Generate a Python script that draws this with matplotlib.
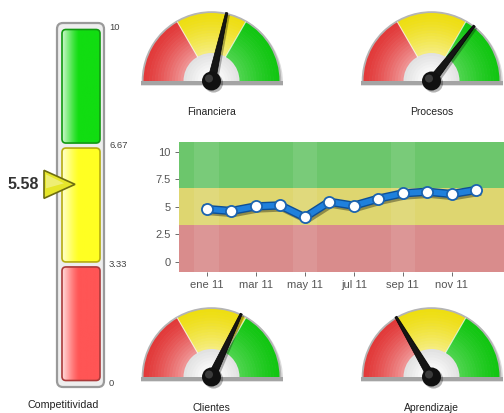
import numpy as np
import matplotlib
matplotlib.use('Agg')
import matplotlib.pyplot as plt
from matplotlib.patches import Wedge, Circle, Rectangle, FancyBboxPatch, Polygon
from matplotlib.colors import to_rgb
import matplotlib.patheffects as pe

plt.rcParams['font.family'] = ['Liberation Sans', 'DejaVu Sans']

# bullet (vertical thermometer)
bullet_title = 'Competitividad'
bullet_value = 5.58
limits = [0, 3.33, 6.67, 10]
limit_labels = ['0', '3.33', '6.67', '10']

# gauges
gauge_names = ['Financiera', 'Procesos', 'Clientes', 'Aprendizaje']
gauge_values = [5.7, 7.1, 6.4, 3.3]

# monthly trend
months = ['ene 11', 'feb 11', 'mar 11', 'abr 11', 'may 11', 'jun 11',
          'jul 11', 'ago 11', 'sep 11', 'oct 11', 'nov 11', 'dic 11']
trend = [4.79, 4.61, 5.03, 5.12, 4.03, 5.45, 5.09, 5.73, 6.21, 6.36, 6.15, 6.52]

zone_colors = ['#e23a3a', '#eede12', '#12c612']
zone_light = [0.45, 0.45, 0.25]


def mix(c, w, amt):
    c, w = np.array(to_rgb(c)), np.array(to_rgb(w))
    return tuple(c + (w - c) * amt)


fig = plt.figure(figsize=(5.04, 4.13), dpi=100)
ax = fig.add_axes([0, 0, 1, 1])
ax.set_xlim(0, 504)
ax.set_ylim(0, 413)
ax.axis('off')

# ---------------- bullet ----------------
def by(v):
    return 30 + v * 35.6

bullet_colors = ['#ff5555', '#ffff22', '#11dd11']
bullet_edges = ['#aa3a3a', '#b5ad10', '#119911']
ax.add_patch(FancyBboxPatch((57, by(0) - 4), 47, by(10) - by(0) + 8,
                            boxstyle='round,pad=0,rounding_size=6',
                            fc='#eeeeee', ec='#9a9a9a', lw=1.6))
for i in range(3):
    y0, y1 = by(limits[i]) + 2.5, by(limits[i + 1]) - 2.5
    seg = FancyBboxPatch((62, y0), 38, y1 - y0,
                         boxstyle='round,pad=0,rounding_size=4',
                         fc='none', ec=bullet_edges[i], lw=1.2, zorder=3)
    ax.add_patch(seg)
    t = np.linspace(0, 1, 60)
    amt = np.clip(1 - t / 0.45, 0, 1) ** 1.3 * 0.8
    grad = np.array([mix(bullet_colors[i], 'white', a) for a in amt])[None, :, :]
    im = ax.imshow(grad, extent=(62, 100, y0, y1), aspect='auto', zorder=2)
    im.set_clip_path(seg)
    ax.text(109, by(limits[i]), limit_labels[i], fontsize=6.8, color='#444',
            va='center', ha='left')
ax.text(109, by(limits[3]), limit_labels[3], fontsize=6.8, color='#444',
        va='center', ha='left')

yv = by(bullet_value)
ax.add_patch(Polygon([(44, yv + 14), (44, yv - 14), (75, yv)], closed=True,
                     fc='#e6e62a', ec='#6d6d10', lw=1.2, zorder=5))
ax.add_patch(Polygon([(46, yv + 10), (46, yv - 4), (64, yv + 1)], closed=True,
                     fc='white', alpha=0.35, ec='none', zorder=6))
ax.text(39, yv, f'{bullet_value:.2f}', fontsize=11.5, fontweight='bold',
        color='#333', ha='right', va='center')
ax.text(63, 8, bullet_title, fontsize=7.7, color='#222', ha='center', va='center')


# ---------------- gauges ----------------
def draw_gauge(cx, cy, value, name):
    R, r_in = 68, 28
    ax.add_patch(Wedge((cx + 1, cy - 2), R + 2.5, 0, 180, fc='#dddddd', ec='none'))
    ax.add_patch(Wedge((cx, cy), R + 1.8, 0, 180, fc='#b4b4b4', ec='none'))
    ax.add_patch(Rectangle((cx - R - 3, cy - 5), 2 * R + 6, 2, fc='#e2e2e2', ec='none'))
    ax.add_patch(Rectangle((cx - R - 3, cy - 3.5), 2 * R + 6, 3.5, fc='#a4a4a4', ec='none'))
    n = 14
    dr = (R - r_in) / n
    for i in range(3):
        th2 = 180 - limits[i] * 18
        th1 = 180 - limits[i + 1] * 18
        for k in range(n):
            t = k / (n - 1)
            amt = zone_light[i] * t ** 1.3
            ax.add_patch(Wedge((cx, cy), R - k * dr, th1, th2, width=dr + 0.6,
                               fc=mix(zone_colors[i], 'white', amt), ec='none'))
    for lim in limits[1:3]:
        a = np.radians(180 - lim * 18)
        ax.plot([cx + r_in * np.cos(a), cx + R * np.cos(a)],
                [cy + r_in * np.sin(a), cy + R * np.sin(a)],
                color='white', lw=0.8, alpha=0.7)
    m = 10
    for k in range(m):
        rr = r_in - k * r_in / m
        ax.add_patch(Wedge((cx, cy), rr, 0, 180,
                           fc=mix('#e2e2e2', '#fcfcfc', min(1, k / (m - 3))), ec='none'))
    a = np.radians(180 - value * 18)
    L = 70
    ux, uy = np.cos(a), np.sin(a)
    px, py = -uy, ux
    needle = [(cx + px * 4.0, cy + py * 4.0),
              (cx + ux * L + px * 1.1, cy + uy * L + py * 1.1),
              (cx + ux * L - px * 1.1, cy + uy * L - py * 1.1),
              (cx - px * 4.0, cy - py * 4.0)]
    ax.add_patch(Polygon(needle, closed=True, fc='#151515', ec='#000', lw=0.5,
                         zorder=4,
                         path_effects=[pe.withSimplePatchShadow(offset=(1.5, -1.5),
                                                                alpha=0.3)]))
    ax.add_patch(Circle((cx, cy), 9.5, fc='#111', ec='none', zorder=5,
                        path_effects=[pe.withSimplePatchShadow(offset=(1.5, -1.5),
                                                               alpha=0.3)]))
    ax.add_patch(Circle((cx - 2.5, cy + 2.5), 4, fc='#666', ec='none', alpha=0.5,
                        zorder=6))
    ax.text(cx, cy - 31, name, fontsize=7.5, color='#222', ha='center', va='center')


gauge_pos = [(211.5, 332), (431.5, 332), (211.5, 36), (431.5, 36)]
for (gx, gy), val, nm in zip(gauge_pos, gauge_values, gauge_names):
    draw_gauge(gx, gy, val, nm)

# ---------------- trend chart ----------------
lax = fig.add_axes([179.3 / 504, 141.3 / 413, 1 - 179.3 / 504, 130 / 413])
x = np.arange(len(months))
lax.set_xlim(-1.12, 12.13)
lax.set_ylim(-0.9, 10.9)
lax.axhspan(-0.9, limits[1], color='#d98c8c', lw=0)
lax.axhspan(limits[1], limits[2], color='#ded670', lw=0)
lax.axhspan(limits[2], 10.9, color='#6cc66c', lw=0)
for mth in x[::4]:
    lax.axvspan(mth - 0.5, mth + 0.5, color='white', alpha=0.09, lw=0)
lax.grid(True, ls=(0, (2, 2)), lw=0.6, color='#666', alpha=0.35)
lax.set_axisbelow(True)
lax.plot(x, trend, color='#1f80dc', lw=4, solid_joinstyle='round', zorder=3,
         path_effects=[pe.SimpleLineShadow(offset=(1.5, -2.5), alpha=0.35),
                       pe.Stroke(linewidth=6, foreground='#0d4f96'), pe.Normal()])
lax.plot(x, trend, 'o', ms=8, mfc='white', mec='#1a63b0', mew=1.3, zorder=4)
lax.set_xticks(x[::2])
lax.set_xticklabels(months[::2])
lax.set_yticks([0, 2.5, 5, 7.5, 10])
lax.set_yticklabels(['0', '2.5', '5', '7.5', '10'])
lax.tick_params(labelsize=8, colors='#555', length=3, width=0.6, pad=3)
for s in lax.spines.values():
    s.set_visible(False)

fig.savefig('out.png', dpi=100)
